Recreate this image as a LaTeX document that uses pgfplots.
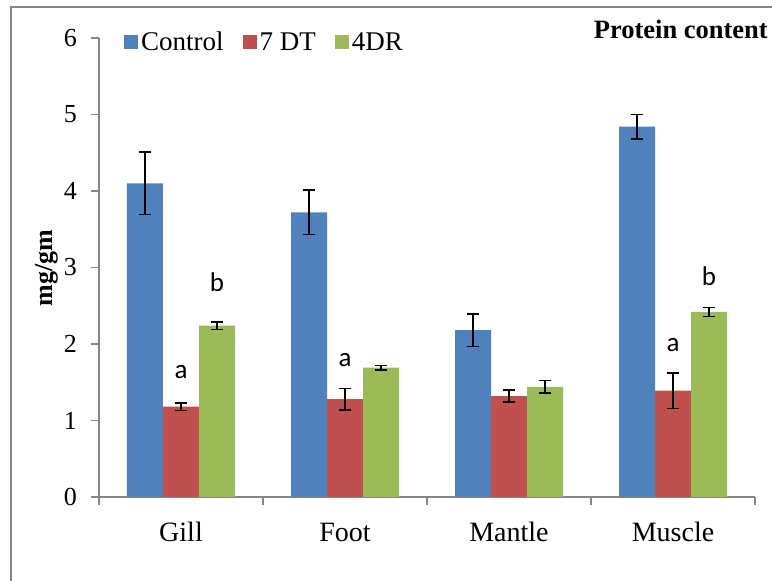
\documentclass[border=0pt]{standalone}
\usepackage{pgfplots}
\pgfplotsset{compat=1.18}
\usepackage{fontspec}
\setmainfont{Liberation Serif}
\newfontfamily\sansf{Carlito}
\definecolor{cblue}{HTML}{4F81BD}
\definecolor{cred}{HTML}{C0504D}
\definecolor{cgreen}{HTML}{9BBB59}
\definecolor{axgray}{HTML}{868686}
\begin{document}
\begin{tikzpicture}
\clip (-99pt,-84pt) rectangle (673pt,497pt);
\draw[axgray, line width=1.5pt] (-88pt,-140pt) rectangle (740pt,490pt);
\begin{axis}[
  at={(0pt,0pt)}, anchor=south west,
  scale only axis, width=656pt, height=459pt,
  ybar, bar width=36pt, ybar=0pt,
  xmin=-0.5, xmax=3.5, ymin=0, ymax=6,
  axis x line*=bottom, axis y line*=left,
  axis line style={axgray, line width=1.5pt, -},
  xtick={-0.5,0.5,1.5,2.5,3.5}, xticklabels={,,,,},
  extra x ticks={0,1,2,3},
  extra x tick labels={Gill,Foot,Mantle,Muscle},
  extra x tick style={major tick length=0pt, xticklabel style={font=\fontsize{28}{30}\selectfont, anchor=base, yshift=-45pt, inner sep=0pt}},
  ytick={0,1,2,3,4,5,6},
  tick align=outside, major tick length=8pt,
  tick style={axgray, line width=1.5pt},
  yticklabel style={font=\fontsize{26}{28}\selectfont, inner sep=0pt, xshift=-14pt},
  /pgf/number format/assume math mode=true,
  legend columns=3,
  legend style={draw=none, fill=none, at={(axis description cs:0.038,0.991)}, anchor=west, inner sep=0pt,
    font=\fontsize{27}{29}\selectfont,
    nodes={inner sep=3pt},
    /tikz/every even column/.append style={column sep=16pt}},
  legend image code/.code={\fill[#1] (0pt,-7pt) rectangle (14pt,7pt);},
  error bars/y dir=both, error bars/y explicit,
  error bars/error bar style={black, line width=1.5pt},
  error bars/error mark options={rotate=90, black, mark size=6pt, line width=1.5pt},
]
\addplot[fill=cblue, draw=none] coordinates {
  (0,4.10) +- (0,0.41)
  (1,3.72) +- (0,0.29)
  (2,2.18) +- (0,0.21)
  (3,4.84) +- (0,0.16)
};
\addlegendentry{Control}
\addplot[fill=cred, draw=none] coordinates {
  (0,1.18) +- (0,0.05)
  (1,1.28) +- (0,0.14)
  (2,1.32) +- (0,0.08)
  (3,1.39) +- (0,0.23)
};
\addlegendentry{7 DT}
\addplot[fill=cgreen, draw=none] coordinates {
  (0,2.24) +- (0,0.05)
  (1,1.69) +- (0,0.03)
  (2,1.44) +- (0,0.08)
  (3,2.42) +- (0,0.06)
};
\addlegendentry{4DR}
\node[font=\sansf\fontsize{27}{29}\selectfont] at (axis cs:0,1.63) {a};
\node[font=\sansf\fontsize{27}{29}\selectfont] at (axis cs:0.2195,2.81) {b};
\node[font=\sansf\fontsize{27}{29}\selectfont] at (axis cs:1,1.79) {a};
\node[font=\sansf\fontsize{27}{29}\selectfont] at (axis cs:3,1.98) {a};
\node[font=\sansf\fontsize{27}{29}\selectfont] at (axis cs:3.2195,2.88) {b};
\end{axis}
\node[anchor=east, font=\bfseries\fontsize{26.5}{28}\selectfont, inner sep=0pt] at (669pt,468pt) {Protein content};
\node[rotate=90, font=\bfseries\fontsize{26}{28}\selectfont, inner sep=0pt] at (-52pt,229pt) {mg/gm};
\end{tikzpicture}
\end{document}
